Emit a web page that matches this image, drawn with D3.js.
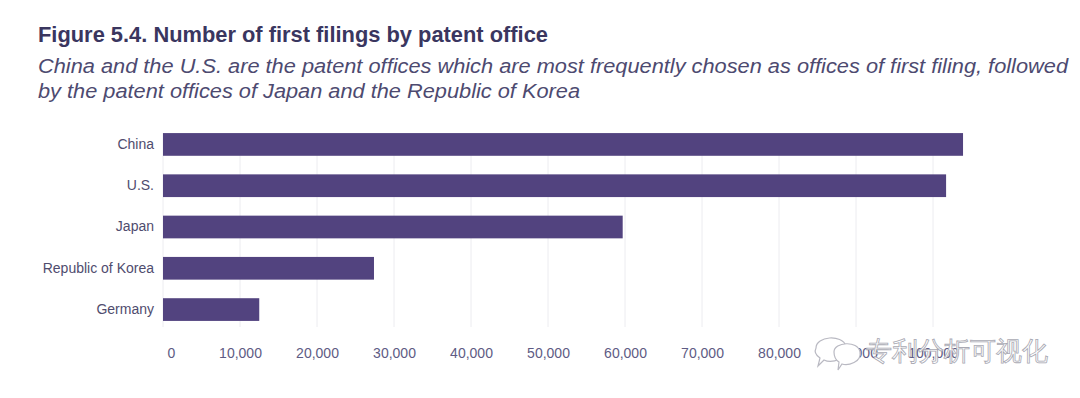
<!DOCTYPE html>
<html>
<head>
<meta charset="utf-8">
<script src="https://cdn.jsdelivr.net/npm/d3@7"></script>
<style>
  body { margin: 0; background: #fff; }
  text { font-family: 'Liberation Sans', Arial, sans-serif; }
</style>
</head>
<body>
<div class="draw-section"></div>
<script>
// data
const offices = ['China', 'U.S.', 'Japan', 'Republic of Korea', 'Germany'];
const firstFilings = [103900, 101700, 59700, 27400, 12500];
const xTicks = [0, 10000, 20000, 30000, 40000, 50000, 60000, 70000, 80000, 90000, 100000];

const title = 'Figure 5.4. Number of first filings by patent office';
const subtitle = [
  'China and the U.S. are the patent offices which are most frequently chosen as offices of first filing, followed',
  'by the patent offices of Japan and the Republic of Korea'
];
const watermark = '专利分析可视化';

const width = 1080;
const height = 398;
const margin = { top: 133, right: 147, bottom: 71, left: 163 };

const svg = d3
  .select('.draw-section')
  .append('svg')
  .attr('width', width)
  .attr('height', height);

// titles
svg
  .append('text')
  .attr('x', 38)
  .attr('y', 42)
  .attr('fill', '#3a365f')
  .attr('font-size', 22)
  .attr('font-weight', 'bold')
  .attr('textLength', 510)
  .attr('lengthAdjust', 'spacingAndGlyphs')
  .text(title);

svg
  .selectAll('text.subtitle')
  .data(subtitle)
  .enter()
  .append('text')
  .attr('class', 'subtitle')
  .attr('x', 38)
  .attr('y', (d, i) => 73 + i * 25)
  .attr('fill', '#4d4a70')
  .attr('font-size', 20)
  .attr('font-style', 'italic')
  .attr('textLength', (d, i) => (i === 0 ? 1030 : 542))
  .attr('lengthAdjust', 'spacingAndGlyphs')
  .text(d => d);

const x = d3
  .scaleLinear()
  .domain([0, 100000])
  .range([margin.left, 933]);

const y = d3
  .scaleBand()
  .domain(offices)
  .range([margin.top - 9, 330])
  .paddingInner(0.45)
  .paddingOuter(0.22);

// grid lines
svg
  .append('g')
  .attr('class', 'grid')
  .selectAll('line')
  .data(xTicks)
  .enter()
  .append('line')
  .attr('x1', d => x(d))
  .attr('x2', d => x(d))
  .attr('y1', margin.top)
  .attr('y2', 327)
  .attr('stroke', '#ececf0')
  .attr('stroke-width', 1);

// bars
svg
  .append('g')
  .attr('class', 'bars')
  .selectAll('rect')
  .data(offices)
  .enter()
  .append('rect')
  .attr('x', x(0))
  .attr('y', d => y(d))
  .attr('width', (d, i) => x(firstFilings[i]) - x(0))
  .attr('height', y.bandwidth())
  .attr('fill', '#52437f');

// category axis
const yAxis = d3.axisLeft(y).tickSize(0).tickPadding(9);
const drawnY = svg
  .append('g')
  .attr('transform', `translate(${margin.left},0)`)
  .call(yAxis);
drawnY.select('.domain').remove();
drawnY
  .selectAll('text')
  .attr('fill', '#4f4c6e')
  .attr('font-size', 14)
  .attr('font-family', "'Liberation Sans', Arial, sans-serif");

// value axis
const xAxis = d3
  .axisBottom(x)
  .tickValues(xTicks)
  .tickSize(0)
  .tickPadding(0)
  .tickFormat(d3.format(','));
const drawnX = svg
  .append('g')
  .attr('transform', `translate(0,348)`)
  .call(xAxis);
drawnX.select('.domain').remove();
drawnX
  .selectAll('text')
  .attr('fill', '#5e5b84')
  .attr('font-size', 14)
  .attr('font-family', "'Liberation Sans', Arial, sans-serif")
  .attr('dx', d => (d === 0 ? 8 : 0));

// watermark
const wm = svg.append('g').attr('transform', 'translate(812,350)');
wm.append('path')
  .attr('d', 'M4,-2 C4,-14 30,-16 34,-4 C38,8 20,14 12,10 L6,16 L8,8 C2,4 3,0 4,-2 Z')
  .attr('fill', '#ffffff')
  .attr('stroke', '#b9b9c2')
  .attr('stroke-width', 1.2);
wm.append('path')
  .attr('d', 'M22,2 C22,-8 46,-10 48,2 C50,12 36,16 30,14 L26,20 L27,12 C22,9 22,5 22,2 Z')
  .attr('fill', '#ffffff')
  .attr('stroke', '#b9b9c2')
  .attr('stroke-width', 1.2);
wm.append('text')
  .attr('x', 54)
  .attr('y', 10)
  .attr('font-family', "'Noto Sans CJK SC', sans-serif")
  .attr('font-size', 26)
  .attr('fill', '#ffffff')
  .attr('fill-opacity', 0.85)
  .attr('stroke', '#a9a9b3')
  .attr('stroke-width', 0.8)
  .text(watermark);
</script>
</body>
</html>
